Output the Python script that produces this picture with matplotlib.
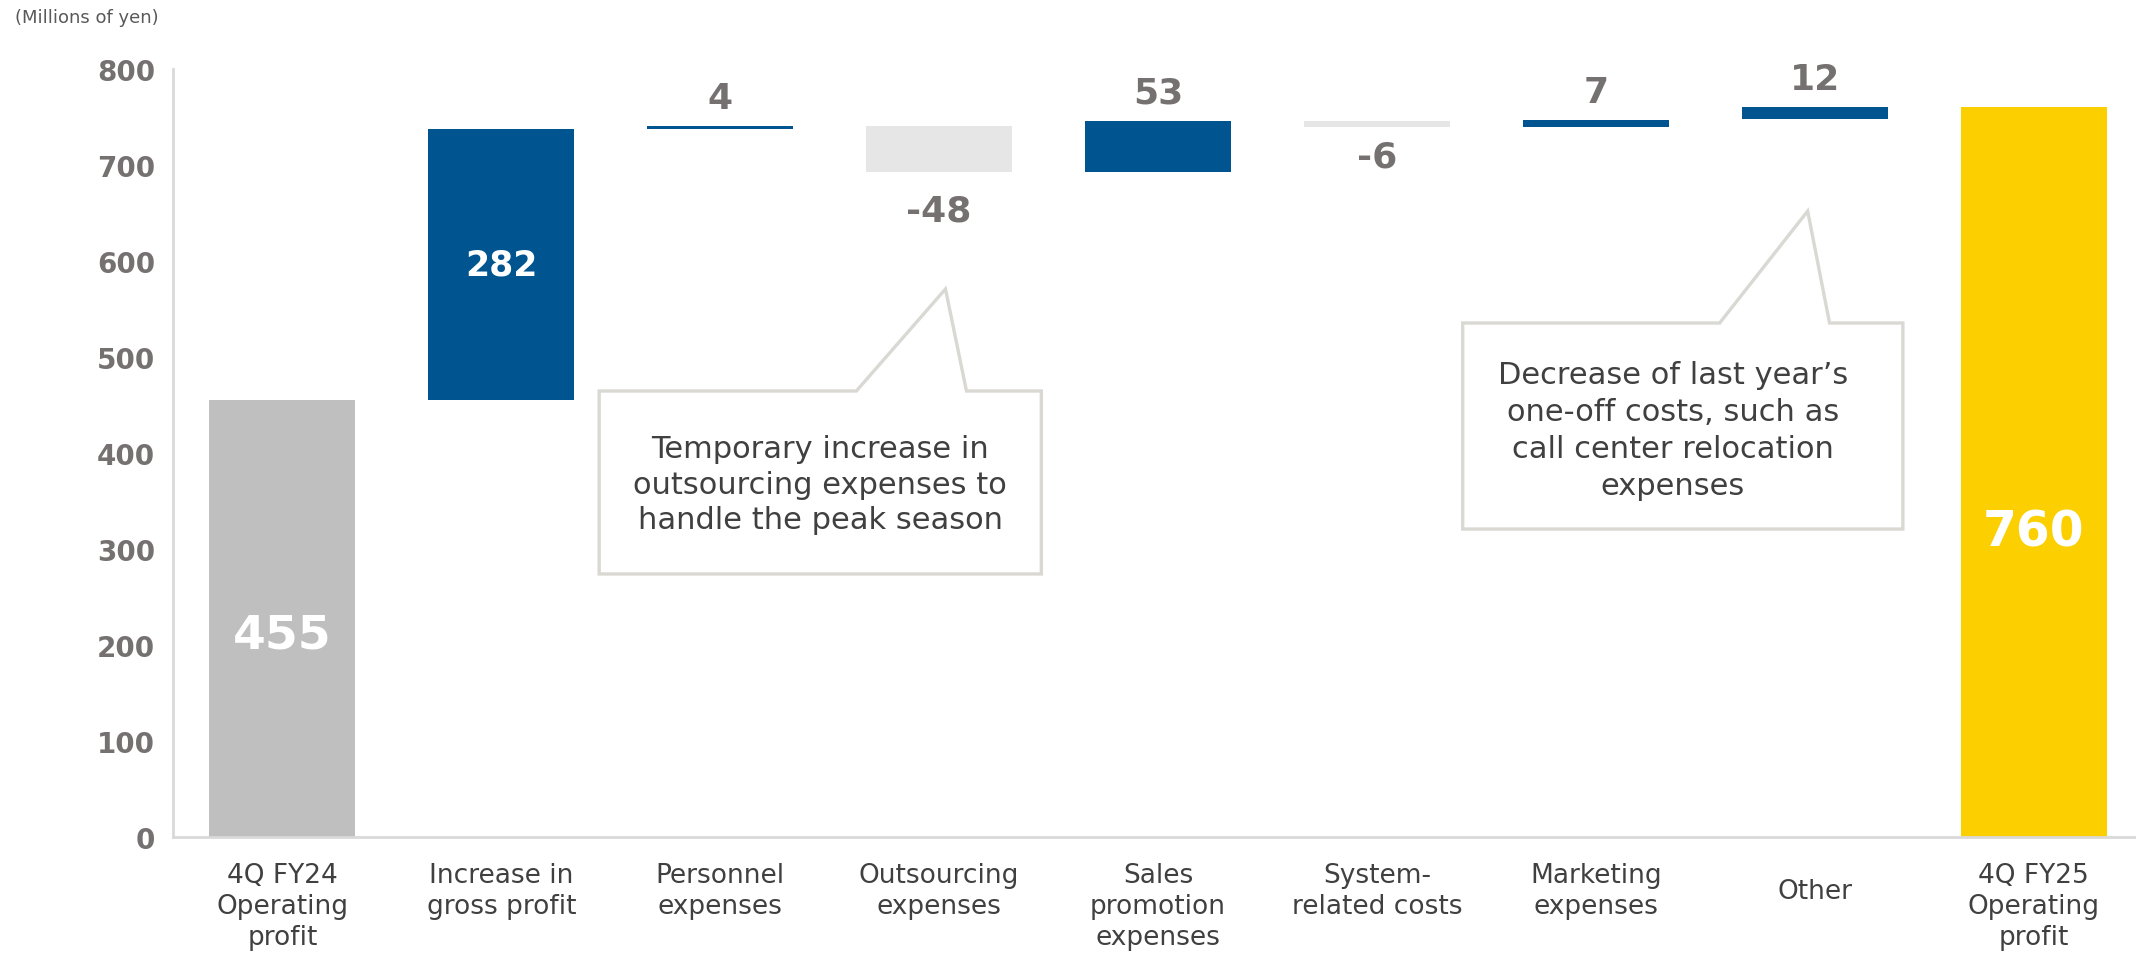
import matplotlib
matplotlib.use('Agg')
import matplotlib.pyplot as plt
from matplotlib.patches import Polygon
from matplotlib.transforms import ScaledTranslation
import numpy as np

plt.rcParams['font.family'] = ['DejaVu Sans']

# waterfall data (millions of yen)
categories = ['4Q FY24\nOperating\nprofit', 'Increase in\ngross profit', 'Personnel\nexpenses',
              'Outsourcing\nexpenses', 'Sales\npromotion\nexpenses', 'System-\nrelated costs',
              'Marketing\nexpenses', 'Other', '4Q FY25\nOperating\nprofit']
start_value = 455
changes = [282, 4, -48, 53, -6, 7, 12]
end_value = 760
yticks = [0, 100, 200, 300, 400, 500, 600, 700, 800]

note_outsourcing = 'Temporary increase in\noutsourcing expenses to\nhandle the peak season'
note_other = 'Decrease of last year\u2019s\none-off costs, such as\ncall center relocation\nexpenses'

BLUE = '#005591'
NEG = '#E7E6E6'
START = '#BFBFBF'
END = '#FCD000'
LABEL_GRAY = '#757171'
TEXT = '#404040'
EDGE = '#D9D8D3'

fig = plt.figure(figsize=(21.36, 9.54), dpi=100)
ax = fig.add_axes([173 / 2136, 1 - 838 / 954, (2143 - 173) / 2136, (838 - 70) / 954])

x = np.arange(len(categories))
w = 0.667

# start / end bars
ax.bar(x[0], start_value, width=w, color=START)
ax.bar(x[-1], end_value, width=w, color=END)

# floating bars
cum = start_value
for i, d in enumerate(changes):
    xi = x[i + 1]
    bottom = min(cum, cum + d)
    if i == len(changes) - 1:
        bottom = end_value - d  # last step lands on the end total
    ax.bar(xi, abs(d), bottom=bottom, width=w, color=BLUE if d > 0 else NEG)
    top = bottom + abs(d)
    if d == 282:
        ax.text(xi, bottom + d / 2, str(d), ha='center', va='center',
                color='white', fontsize=25, fontweight='bold')
    elif d > 0:
        ax.annotate(str(d), (xi, top), xytext=(0, 8), textcoords='offset points',
                    ha='center', va='bottom', color=LABEL_GRAY, fontsize=26, fontweight='bold')
    else:
        off = -16 if d < -20 else -9
        ax.annotate(str(d), (xi, bottom), xytext=(0, off), textcoords='offset points',
                    ha='center', va='top', color=LABEL_GRAY, fontsize=26, fontweight='bold')
    cum += d

ax.text(x[0], 210, str(start_value), ha='center', va='center', color='white',
        fontsize=34, fontweight='bold')
ax.text(x[-1], 318, str(end_value), ha='center', va='center', color='white',
        fontsize=35, fontweight='bold')

# callouts
def callout(left, right, bottom, top, bl, tip, br, text, tx, ty, ls):
    pts = [(left, top), (bl, top), tip, (br, top), (right, top), (right, bottom), (left, bottom)]
    ax.add_patch(Polygon(pts, closed=True, facecolor='white', edgecolor=EDGE, linewidth=2.4,
                         zorder=5, clip_on=False))
    ax.text(tx, ty, text, ha='center', va='center', fontsize=22, color=TEXT,
            linespacing=ls, zorder=6)

callout(1.447, 3.467, 274, 464.6, 2.622, (3.029, 570.8), 3.125, note_outsourcing, 2.457, 367.7, 1.3)
callout(5.392, 7.403, 320.8, 535.4, 6.566, (6.968, 652), 7.068, note_other, 6.352, 424, 1.35)

ax.set_xlim(-0.5, len(categories) - 0.5)
ax.set_ylim(0, 800)
ax.set_yticks(yticks)
ax.set_yticklabels([str(v) for v in yticks], fontsize=20, fontweight='bold', color=LABEL_GRAY)
ax.set_xticks(x)
ax.set_xticklabels(categories, fontsize=19, color=TEXT, linespacing=1.25, va='top')
ax.tick_params(axis='both', length=0)
ax.tick_params(axis='y', pad=13)
ax.tick_params(axis='x', pad=18)

# single-line label sits in the middle of the two-line slot
lbl = ax.get_xticklabels()[categories.index('Other')]
lbl.set_transform(lbl.get_transform() + ScaledTranslation(0, -16 / 100, fig.dpi_scale_trans))

for s in ['top', 'right']:
    ax.spines[s].set_visible(False)
for s in ['left', 'bottom']:
    ax.spines[s].set_color('#D9D9D9')
    ax.spines[s].set_linewidth(2)

fig.text(15 / 2136, 1 - 18 / 954, '(Millions of yen)', ha='left', va='center',
         fontsize=13, color='#595959')

fig.savefig('out.png', dpi=100)
